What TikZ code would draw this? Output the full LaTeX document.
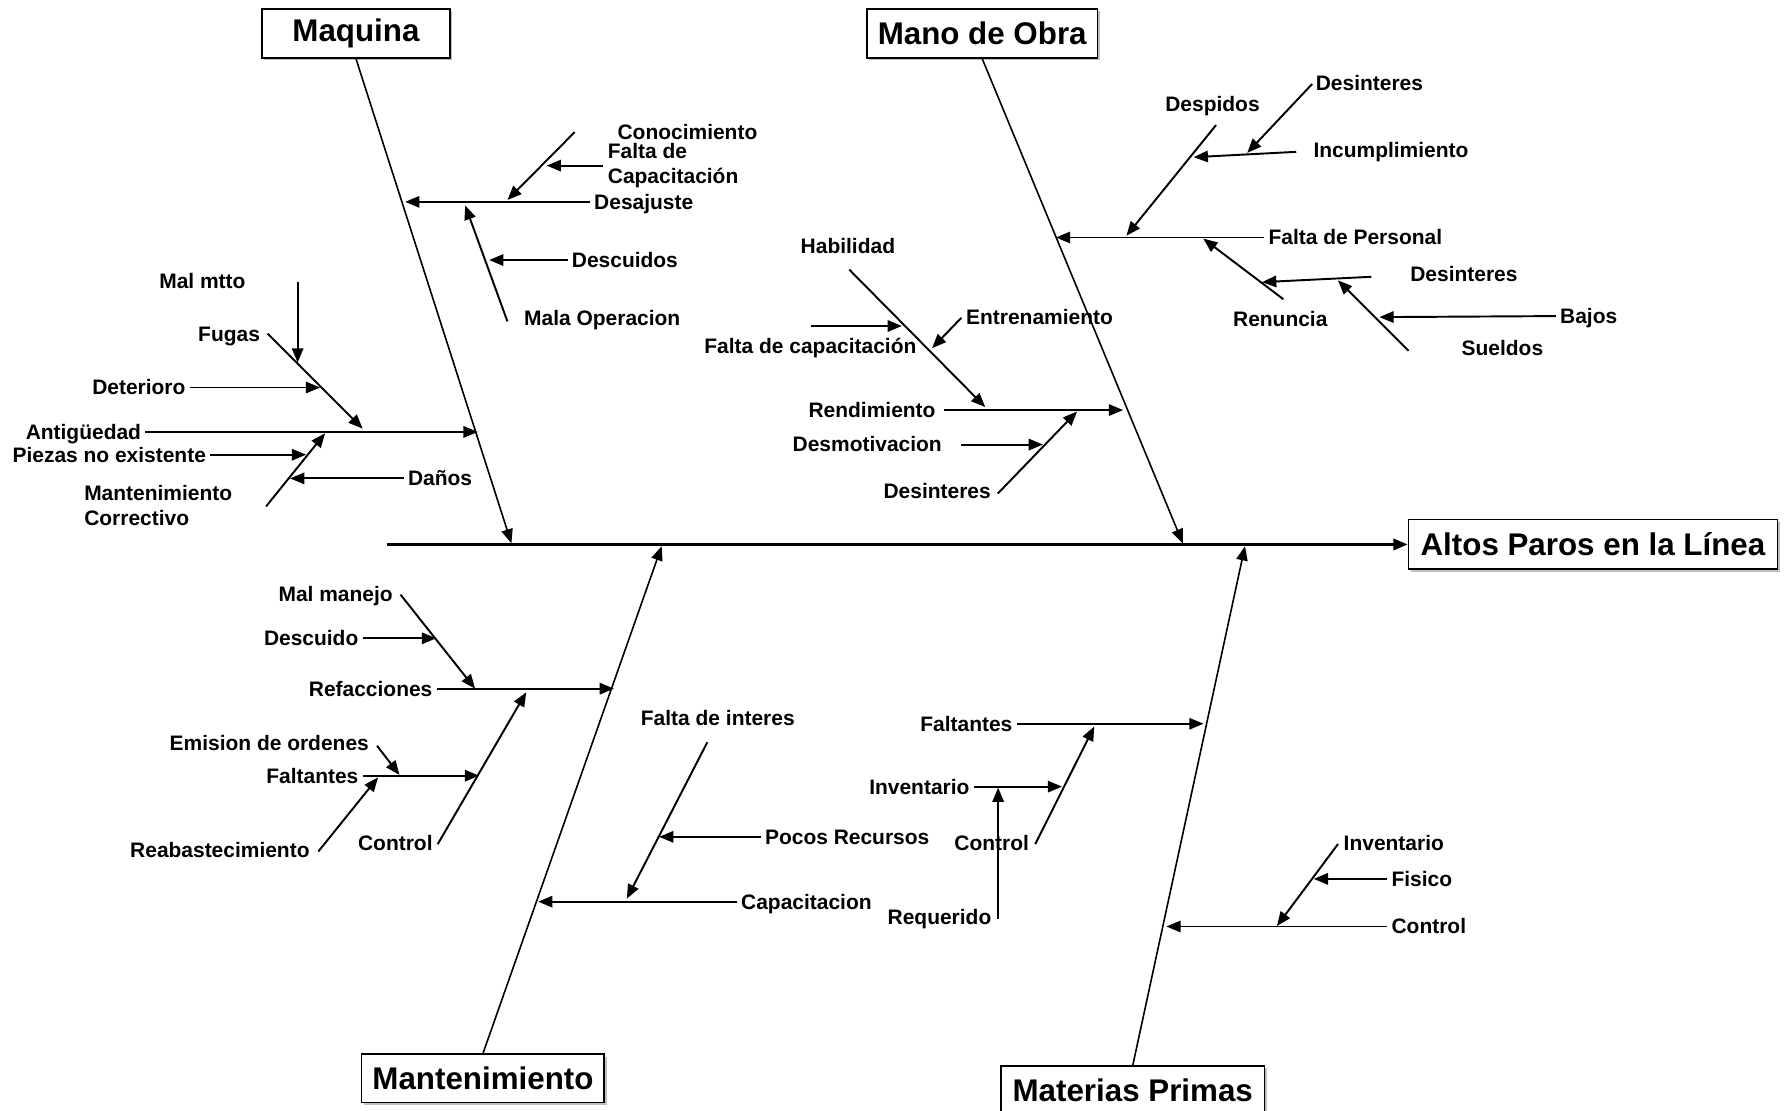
\documentclass[tikz,border=0pt]{standalone}
\usepackage{fontspec}
\setmainfont{Liberation Sans}
\usetikzlibrary{arrows.meta,shadows}
\begin{document}
\begin{tikzpicture}[x=1pt,y=-1pt,
  lbl/.style={font=\fontsize{18.4}{21}\selectfont\bfseries, inner xsep=3.5pt, inner ysep=0pt,
    text height=13pt, text depth=0pt},
  catbox/.style={draw, line width=1.4pt, fill=white, inner sep=0pt,
    font=\fontsize{27.5}{31}\selectfont\bfseries,
    drop shadow={shadow xshift=2pt, shadow yshift=-2pt, fill=black!50}},
  spineline/.style={line width=2.2pt},
  boneline/.style={line width=1.4pt},
  twig/.style={line width=1.7pt},
  ah/.style={-{Triangle[length=12.5pt,width=10pt]}}
]
\useasboundingbox (0,0) rectangle (1568,975);
\fill[white] (0,0) rectangle (1568,975);

% ---------- effect and main categories ----------
\node[catbox, minimum width=324pt, minimum height=43.5pt] (eff) at (1398.5,478) {Altos Paros en la Línea};
\node[catbox, minimum width=165pt, minimum height=43pt] (maq) at (312.5,29.3) {Maquina};
\node[catbox, minimum width=202.6pt, minimum height=43pt] (mob) at (862.3,29.3) {Mano de Obra};
\node[catbox, minimum width=213pt, minimum height=42.5pt] (mant) at (424,946.8) {Mantenimiento};
\node[catbox, minimum width=231pt, minimum height=42pt] (mprim) at (994.5,957) {Materias Primas};

% spine
\coordinate (sp0) at (340,478);
\draw[spineline,ah] (sp0) -- (eff.west);

% main bones
\coordinate (mqE) at (449,477);
\coordinate (moE) at (1038.4,477);
\coordinate (mtE) at (580.9,479.5);
\coordinate (mpE) at (1093,479.5);
\draw[boneline,ah] (maq.south) -- (mqE);
\draw[boneline,ah] (mob.south) -- (moE);
\draw[boneline,ah] (mant.north) -- (mtE);
\draw[boneline,ah] (mprim.north) -- (mpE);

% ---------- Maquina ----------
\coordinate (mqDes) at (355.7,177.2);
\coordinate (mqAnt) at (419.4,379.2);
\node[lbl,anchor=west] (desaj) at (518,177.2) {Desajuste};
\draw[twig,ah] (desaj.west) -- (mqDes);

\node[lbl,anchor=west] (conoc) at (538.5,116) {Conocimiento};
\coordinate (cnA) at (504.5,116);
\coordinate (cnB) at (445.5,175.6);
\draw[twig,ah] (cnA) -- (cnB);
\node[lbl,anchor=west] (fdc1) at (530,133) {Falta de};
\node[lbl,anchor=west] (fdc2) at (530,154.6) {Capacitación};
\coordinate (fdcA) at (529,145.4);
\coordinate (fdcB) at (480,145.4);
\draw[twig,ah] (fdcA) -- (fdcB);

\node[lbl,anchor=west] (malop) at (456.5,279) {Mala Operacion};
\coordinate (moA) at (445.5,282.2);
\coordinate (moB) at (408.4,180.3);
\draw[twig,ah] (moA) -- (moB);
\node[lbl,anchor=west] (descs) at (498.4,228.3) {Descuidos};
\draw[twig,ah] (descs.west) -- (429.4,228.3);

\node[lbl,anchor=west] (malmtto) at (136.2,247) {Mal mtto};
\coordinate (mmA) at (261.3,247.8);
\coordinate (mmB) at (261.3,318.3);
\draw[twig,ah] (mmA) -- (mmB);
\node[lbl,anchor=east] (fugas) at (231.9,293) {Fugas};
\coordinate (fgA) at (235,293);
\coordinate (fgB) at (318.4,376.3);
\draw[twig,ah] (fgA) -- (fgB);
\node[lbl,anchor=east] (deter) at (166.5,340.2) {Deterioro};
\draw[twig,ah] (deter.east) -- (281,340.2);

\node[lbl,anchor=east] (antig) at (127.5,379.2) {Antigüedad};
\draw[twig,ah] (antig.east) -- (mqAnt);
\node[lbl,anchor=east] (piezas) at (184.5,399.2) {Piezas no existente};
\draw[twig,ah] (piezas.east) -- (268.7,399.2);
\node[lbl,anchor=west] (mc1) at (70.3,433.3) {Mantenimiento};
\node[lbl,anchor=west] (mc2) at (70.3,454.6) {Correctivo};
\coordinate (mcA) at (233.6,444.6);
\coordinate (mcB) at (285.4,380.4);
\draw[twig,ah] (mcA) -- (mcB);
\node[lbl,anchor=west] (danos) at (354.5,420) {Daños};
\draw[twig,ah] (danos.west) -- (254.7,420);

% ---------- Mano de Obra ----------
\node[lbl,anchor=west] (fper) at (1110,208.5) {Falta de Personal};
\draw[twig,ah] (fper.west) -- (927,208.5);
\node[lbl] (despi) at (1064.5,91) {Despidos};
\coordinate (dpA) at (1067.6,109.8);
\coordinate (dpB) at (988.9,207);
\draw[twig,ah] (dpA) -- (dpB);
\node[lbl,anchor=west] (incum) at (1149.5,131.5) {Incumplimiento};
\coordinate (icA) at (1138,133.3);
\coordinate (icB) at (1048,138);
\draw[twig,ah] (icA) -- (icB);
\node[lbl,anchor=west] (desin1) at (1151.5,73) {Desinteres};
\coordinate (dsA) at (1152,73.7);
\coordinate (dsB) at (1095,134.2);
\draw[twig,ah] (dsA) -- (dsB);

\node[lbl] (renun) at (1124,280) {Renuncia};
\coordinate (rnA) at (1126.7,262.7);
\coordinate (rnB) at (1056.4,209.5);
\draw[twig,ah] (rnA) -- (rnB);
\node[lbl,anchor=west] (desin2) at (1234.5,241) {Desinteres};
\coordinate (d2A) at (1204,243);
\coordinate (d2B) at (1108,247.7);
\draw[twig,ah] (d2A) -- (d2B);
\node[lbl] (sueld) at (1319,305.6) {Sueldos};
\coordinate (suA) at (1236.6,307.9);
\coordinate (suB) at (1174.6,246.1);
\draw[twig,ah] (suA) -- (suB);
\node[lbl,anchor=west] (bajos) at (1366,277.5) {Bajos};
\draw[twig,ah] (bajos.west) -- (1211,278.4);

\node[lbl,anchor=east] (rendi) at (825,360) {Rendimiento};
\coordinate (rdA) at (828.4,360);
\draw[twig,ah] (rdA) -- (986,360);
\node[lbl] (habil) at (744.4,216.4) {Habilidad};
\coordinate (hbA) at (745.6,236.7);
\coordinate (hbB) at (865,357.4);
\draw[twig,ah] (hbA) -- (hbB);
\node[lbl] (fcap) at (711.5,304) {Falta de capacitación};
\coordinate (fcA) at (711.8,286.2);
\coordinate (fcB) at (791.8,286.2);
\draw[twig,ah] (fcA) -- (fcB);
\node[lbl,anchor=west] (entre) at (844.5,278) {Entrenamiento};
\coordinate (enA) at (844,279);
\coordinate (enB) at (818.3,305.7);
\draw[twig,ah] (enA) -- (enB);
\node[lbl,anchor=east] (desin3) at (873.5,431) {Desinteres};
\coordinate (d3A) at (876,433.3);
\coordinate (d3B) at (945.6,361.2);
\draw[twig,ah] (d3A) -- (d3B);
\node[lbl,anchor=east] (desmo) at (830.5,389.5) {Desmotivacion};
\coordinate (dmA) at (844,390.3);
\draw[twig,ah] (dmA) -- (915.6,390.3);

% ---------- Mantenimiento ----------
\node[lbl,anchor=east] (refac) at (383.3,604.6) {Refacciones};
\draw[twig,ah] (refac.east) -- (539,604.6);
\node[lbl,anchor=east] (malma) at (348.5,522) {Mal manejo};
\coordinate (mjA) at (351.6,522);
\coordinate (mjB) at (417.1,604.6);
\draw[twig,ah] (mjA) -- (mjB);
\node[lbl,anchor=east] (descu) at (318.3,560.4) {Descuido};
\draw[twig,ah] (descu.east) -- (382.9,560.4);
\node[lbl,anchor=east] (ctrl1) at (383.5,740) {Control};
\coordinate (ctA) at (384.3,741.1);
\coordinate (ctB) at (462,607.7);
\draw[twig,ah] (ctA) -- (ctB);
\node[lbl,anchor=east] (emis) at (327.5,652) {Emision de ordenes};
\coordinate (emA) at (331,654.7);
\coordinate (emB) at (350.7,680.3);
\draw[twig,ah] (emA) -- (emB);
\node[lbl,anchor=east] (falt1) at (318.3,681) {Faltantes};
\draw[twig,ah] (falt1.east) -- (420.6,681);
\node[lbl,anchor=east] (reab) at (275.5,746) {Reabastecimiento};
\coordinate (rbA) at (279.5,747.5);
\coordinate (rbB) at (331.9,682.5);
\draw[twig,ah] (rbA) -- (rbB);

\node[lbl,anchor=west] (capac) at (647,791.6) {Capacitacion};
\draw[twig,ah] (capac.west) -- (472.5,791.6);
\node[lbl,anchor=west] (finte) at (559,630.7) {Falta de interes};
\coordinate (fiA) at (621,651.6);
\coordinate (fiB) at (550.3,789);
\draw[twig,ah] (fiA) -- (fiB);
\node[lbl,anchor=west] (pocos) at (668,734.7) {Pocos Recursos};
\draw[twig,ah] (pocos.west) -- (578.7,734.7);

% ---------- Materias Primas ----------
\node[lbl,anchor=east] (falt2) at (892.5,635.4) {Faltantes};
\draw[twig,ah] (falt2.east) -- (1056.6,635.4);
\node[lbl,anchor=east] (ctrl3) at (907,740) {Control};
\coordinate (c3A) at (908.9,741);
\coordinate (c3B) at (960.7,637.8);
\draw[twig,ah] (c3A) -- (c3B);
\node[lbl,anchor=east] (inv1) at (854.8,690.6) {Inventario};
\draw[twig,ah] (inv1.east) -- (932.4,690.6);
\node[lbl,anchor=east] (reque) at (874,805.3) {Requerido};
\coordinate (rqA) at (876.3,806.5);
\coordinate (rqB) at (876.3,691.5);
\draw[twig,ah] (rqA) -- (rqB);

\node[lbl,anchor=west] (ctrl2) at (1218,813.4) {Control};
\draw[twig,ah] (ctrl2.west) -- (1024,813.4);
\node[lbl,anchor=west] (inv2) at (1176,740) {Inventario};
\coordinate (i2A) at (1174.7,741);
\coordinate (i2B) at (1121,813);
\draw[twig,ah] (i2A) -- (i2B);
\node[lbl,anchor=west] (fisic) at (1218,771.6) {Fisico};
\draw[twig,ah] (fisic.west) -- (1153.4,771.6);
\end{tikzpicture}
\end{document}
